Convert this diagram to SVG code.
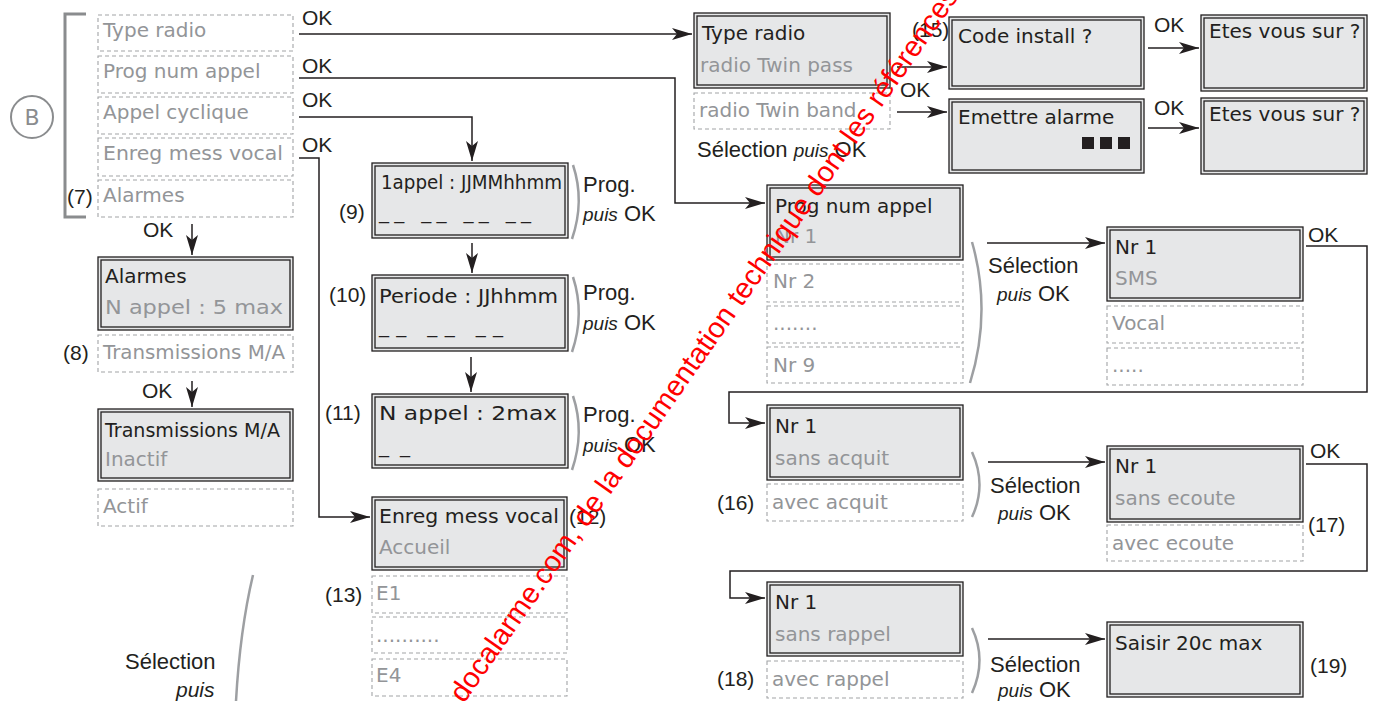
<svg xmlns="http://www.w3.org/2000/svg" width="1380" height="701" viewBox="0 0 1380 701">
<style>
.box{fill:#e6e7e8;stroke:#231f20;stroke-width:1.3}
.inner{fill:none;stroke:#231f20;stroke-width:1.3}
.dash{fill:none;stroke:#a2a4a6;stroke-width:1.1;stroke-dasharray:4 3}
.fg{font-family:"DejaVu Sans","Liberation Sans",sans-serif;font-size:20px;fill:#231f20}
.gr{font-family:"DejaVu Sans","Liberation Sans",sans-serif;font-size:20px;fill:#939598}
.lbl{font-family:"Liberation Sans",Arial,sans-serif;font-size:21px;fill:#231f20}
.big{font-family:"Liberation Sans",Arial,sans-serif;font-size:22px;fill:#231f20}
.it{font-style:italic;font-size:19px}
.arc{fill:none;stroke:#9d9fa2;stroke-width:2.5}
.conn{fill:none;stroke:#231f20;stroke-width:1.5}
.wm{font-family:"Liberation Sans",Arial,sans-serif;font-size:29px;fill:#ff0000}
</style>
<defs>
<marker id="ah" viewBox="0 0 20 12" refX="20" refY="6" markerWidth="20" markerHeight="12" markerUnits="userSpaceOnUse" orient="auto">
<path d="M0,0 L20,6 L0,12 L5,6 Z" fill="#231f20"/>
</marker>
</defs>
<rect width="1380" height="701" fill="#ffffff"/>

<!-- left menu -->
<g id="menu-b">
<path d="M86,14 H65 V217 H86" fill="none" stroke="#8a8c8e" stroke-width="3"/>
<circle cx="32" cy="117" r="21" fill="none" stroke="#8a8c8e" stroke-width="2"/>
<text x="32" y="125" text-anchor="middle" class="gr" style="font-size:22px;fill:#8a8c8e">B</text>
</g>
<g id="m-type-radio"><rect class="dash" x="98" y="15" width="195" height="36"/><text class="gr" x="103" y="37">Type radio</text></g>
<g id="m-prog-num"><rect class="dash" x="98" y="56" width="195" height="37"/><text class="gr" x="103" y="78">Prog num appel</text></g>
<g id="m-appel-cyc"><rect class="dash" x="98" y="97" width="195" height="37"/><text class="gr" x="103" y="119">Appel cyclique</text></g>
<g id="m-enreg"><rect class="dash" x="98" y="138" width="195" height="38"/><text class="gr" x="103" y="160" textLength="180" lengthAdjust="spacingAndGlyphs">Enreg mess vocal</text></g>
<g id="m-alarmes"><rect class="dash" x="98" y="180" width="195" height="37"/><text class="gr" x="103" y="202">Alarmes</text><text class="lbl" x="67" y="204">(7)</text></g>

<g id="n-alarmes"><rect class="box" x="98" y="257" width="195" height="73"/><rect class="inner" x="101" y="260" width="189" height="67"/><text class="fg" x="105" y="283">Alarmes</text><text class="gr" x="105" y="314" textLength="178" lengthAdjust="spacingAndGlyphs">N appel : 5 max</text></g>
<g id="m-trans"><rect class="dash" x="98" y="335" width="195" height="37"/><text class="gr" x="103" y="359" textLength="182" lengthAdjust="spacingAndGlyphs">Transmissions M/A</text><text class="lbl" x="63" y="360">(8)</text></g>
<g id="n-trans"><rect class="box" x="98" y="409" width="195" height="72"/><rect class="inner" x="101" y="412" width="189" height="66"/><text class="fg" x="105" y="437" textLength="175" lengthAdjust="spacingAndGlyphs">Transmissions M/A</text><text class="gr" x="105" y="466">Inactif</text></g>
<g id="m-actif"><rect class="dash" x="98" y="489" width="195" height="37"/><text class="gr" x="103" y="513">Actif</text></g>

<!-- appel cyclique -->
<g id="n-9"><rect class="box" x="372" y="163" width="196" height="75"/><rect class="inner" x="375" y="166" width="190" height="69"/><text class="fg" x="381" y="189" textLength="181" lengthAdjust="spacingAndGlyphs">1appel : JJMMhhmm</text><text class="fg" x="379" y="219" textLength="152" lengthAdjust="spacing">__ __ __ __</text><text class="lbl" x="339" y="219">(9)</text><path class="arc" d="M573,165 Q585,201 572,239"/><text class="big" x="583" y="192">Prog.</text><text class="big" x="583" y="221"><tspan class="it">puis</tspan> OK</text></g>
<g id="n-10"><rect class="box" x="372" y="275" width="196" height="76"/><rect class="inner" x="375" y="278" width="190" height="70"/><text class="fg" x="379" y="303" textLength="179" lengthAdjust="spacingAndGlyphs">Periode :  JJhhmm</text><text class="fg" x="379" y="333" textLength="124" lengthAdjust="spacing">__ __ __</text><text class="lbl" x="329" y="302">(10)</text><path class="arc" d="M573,277 Q585,314 572,352"/><text class="big" x="583" y="300">Prog.</text><text class="big" x="583" y="330"><tspan class="it">puis</tspan> OK</text></g>
<g id="n-11"><rect class="box" x="372" y="394" width="196" height="74"/><rect class="inner" x="375" y="397" width="190" height="68"/><text class="fg" x="379" y="420" textLength="178" lengthAdjust="spacingAndGlyphs">N  appel : 2max</text><text class="fg" x="379" y="453" textLength="31" lengthAdjust="spacing">__</text><text class="lbl" x="325" y="420">(11)</text><path class="arc" d="M573,396 Q585,432 572,470"/><text class="big" x="583" y="422">Prog.</text><text class="big" x="583" y="452"><tspan class="it">puis</tspan> OK</text></g>

<!-- enreg mess vocal -->
<g id="n-12"><rect class="box" x="372" y="497" width="195" height="73"/><rect class="inner" x="375" y="500" width="189" height="67"/><text class="fg" x="379" y="523" textLength="180" lengthAdjust="spacingAndGlyphs">Enreg mess vocal</text><text class="gr" x="379" y="554">Accueil</text><text class="lbl" x="569" y="524">(12)</text></g>
<g id="m-e1"><rect class="dash" x="372" y="576" width="195" height="37"/><text class="gr" x="376" y="600">E1</text><text class="lbl" x="325" y="602">(13)</text></g>
<g id="m-edots"><rect class="dash" x="372" y="617" width="195" height="36"/><text class="gr" x="376" y="642">..........</text></g>
<g id="m-e4"><rect class="dash" x="372" y="659" width="195" height="37"/><text class="gr" x="376" y="682">E4</text></g>
<g id="sel-left"><path class="arc" d="M253,575 Q240,630 236,701"/><text class="big" x="125" y="669">Sélection</text><text class="big it" x="176" y="697" style="font-size:21px">puis</text></g>

<!-- type radio -->
<g id="n-type-radio"><rect class="box" x="694" y="13" width="196" height="75"/><rect class="inner" x="697" y="16" width="190" height="69"/><text class="fg" x="702" y="40">Type radio</text><text class="gr" x="700" y="72">radio Twin pass</text></g>
<g id="m-twin-band"><rect class="dash" x="694" y="93" width="196" height="36"/><text class="gr" x="699" y="117">radio Twin band</text><text class="big" x="697" y="157">Sélection <tspan class="it">puis</tspan> OK</text></g>
<g id="n-code"><rect class="box" x="949" y="17" width="195" height="72"/><rect class="inner" x="952" y="20" width="189" height="66"/><text class="fg" x="958" y="43">Code install ?</text><text class="lbl" x="912" y="37">(15)</text></g>
<g id="n-emettre"><rect class="box" x="949" y="99" width="195" height="74"/><rect class="inner" x="952" y="102" width="189" height="68"/><text class="fg" x="958" y="124">Emettre alarme</text><rect x="1082" y="137" width="12" height="12" fill="#231f20"/><rect x="1100" y="137" width="12" height="12" fill="#231f20"/><rect x="1118" y="137" width="12" height="12" fill="#231f20"/></g>
<g id="n-etes1"><rect class="box" x="1201" y="15" width="166" height="76"/><rect class="inner" x="1204" y="18" width="160" height="70"/><text class="fg" x="1209" y="38">Etes vous sur ?</text></g>
<g id="n-etes2"><rect class="box" x="1201" y="98" width="166" height="76"/><rect class="inner" x="1204" y="101" width="160" height="70"/><text class="fg" x="1209" y="121">Etes vous sur ?</text></g>

<!-- prog num appel -->
<g id="n-prog"><rect class="box" x="767" y="185" width="196" height="75"/><rect class="inner" x="770" y="188" width="190" height="69"/><text class="fg" x="775" y="213">Prog num appel</text><text class="gr" x="775" y="243">Nr 1</text></g>
<g id="m-nr2"><rect class="dash" x="767" y="264" width="196" height="38"/><text class="gr" x="773" y="288">Nr 2</text></g>
<g id="m-nrdots"><rect class="dash" x="767" y="306" width="196" height="37"/><text class="gr" x="773" y="330">.......</text></g>
<g id="m-nr9"><rect class="dash" x="767" y="347" width="196" height="36"/><text class="gr" x="773" y="372">Nr 9</text></g>
<g id="sel-prog"><path class="arc" d="M972,242 Q992,312 970,383"/><text class="big" x="988" y="273">Sélection</text><text class="big" x="997" y="301"><tspan class="it">puis</tspan> OK</text></g>

<g id="n-sms"><rect class="box" x="1107" y="227" width="196" height="74"/><rect class="inner" x="1110" y="230" width="190" height="68"/><text class="fg" x="1115" y="254">Nr 1</text><text class="gr" x="1115" y="285">SMS</text></g>
<g id="m-vocal"><rect class="dash" x="1107" y="306" width="196" height="37"/><text class="gr" x="1112" y="330">Vocal</text></g>
<g id="m-smsdots"><rect class="dash" x="1107" y="348" width="196" height="37"/><text class="gr" x="1112" y="372">.....</text></g>

<g id="n-acquit"><rect class="box" x="767" y="405" width="196" height="75"/><rect class="inner" x="770" y="408" width="190" height="69"/><text class="fg" x="775" y="433">Nr 1</text><text class="gr" x="775" y="465">sans acquit</text></g>
<g id="m-avec-acquit"><rect class="dash" x="767" y="484" width="196" height="37"/><text class="gr" x="772" y="509">avec acquit</text><text class="lbl" x="717" y="510">(16)</text></g>
<g id="sel-acquit"><path class="arc" d="M972,452 Q987,485 972,517"/><text class="big" x="990" y="493">Sélection</text><text class="big" x="998" y="520"><tspan class="it">puis</tspan> OK</text></g>

<g id="n-ecoute"><rect class="box" x="1107" y="446" width="196" height="76"/><rect class="inner" x="1110" y="449" width="190" height="70"/><text class="fg" x="1115" y="473">Nr 1</text><text class="gr" x="1115" y="505">sans ecoute</text></g>
<g id="m-avec-ecoute"><rect class="dash" x="1107" y="525" width="196" height="36"/><text class="gr" x="1112" y="550">avec ecoute</text><text class="lbl" x="1308" y="532">(17)</text></g>

<g id="n-rappel"><rect class="box" x="767" y="582" width="196" height="74"/><rect class="inner" x="770" y="585" width="190" height="68"/><text class="fg" x="775" y="609">Nr 1</text><text class="gr" x="775" y="641">sans rappel</text></g>
<g id="m-avec-rappel"><rect class="dash" x="767" y="661" width="196" height="37"/><text class="gr" x="772" y="686">avec rappel</text><text class="lbl" x="717" y="686">(18)</text></g>
<g id="sel-rappel"><path class="arc" d="M972,628 Q987,660 972,693"/><text class="big" x="990" y="672">Sélection</text><text class="big" x="998" y="697"><tspan class="it">puis</tspan> OK</text></g>

<g id="n-saisir"><rect class="box" x="1107" y="622" width="196" height="75"/><rect class="inner" x="1110" y="625" width="190" height="69"/><text class="fg" x="1115" y="650">Saisir 20c max</text><text class="lbl" x="1310" y="673">(19)</text></g>

<!-- connectors -->
<g id="connectors">
<path class="conn" d="M299,34 H692" marker-end="url(#ah)"/>
<path class="conn" d="M299,78 H675 V203 H765" marker-end="url(#ah)"/>
<path class="conn" d="M299,117 H472 V161" marker-end="url(#ah)"/>
<path class="conn" d="M299,158 H319 V517 H370" marker-end="url(#ah)"/>
<path class="conn" d="M192,224 V255" marker-end="url(#ah)"/>
<path class="conn" d="M192,381 V407" marker-end="url(#ah)"/>
<path class="conn" d="M472,243 V273" marker-end="url(#ah)"/>
<path class="conn" d="M471,357 V392" marker-end="url(#ah)"/>
<path class="conn" d="M897,67 H947" marker-end="url(#ah)"/>
<path class="conn" d="M897,112 H947" marker-end="url(#ah)"/>
<path class="conn" d="M1148,48 H1199" marker-end="url(#ah)"/>
<path class="conn" d="M1148,128 H1199" marker-end="url(#ah)"/>
<path class="conn" d="M987,243 H1105" marker-end="url(#ah)"/>
<path class="conn" d="M1306,246 H1367 V392 H729 V423 H765" marker-end="url(#ah)"/>
<path class="conn" d="M988,462 H1105" marker-end="url(#ah)"/>
<path class="conn" d="M1306,464 H1367 V571 H730 V598 H765" marker-end="url(#ah)"/>
<path class="conn" d="M988,639 H1105" marker-end="url(#ah)"/>
<text class="lbl" x="302" y="25">OK</text>
<text class="lbl" x="302" y="73">OK</text>
<text class="lbl" x="302" y="107">OK</text>
<text class="lbl" x="302" y="152">OK</text>
<text class="lbl" x="143" y="237">OK</text>
<text class="lbl" x="142" y="398">OK</text>
<text class="lbl" x="900" y="97">OK</text>
<text class="lbl" x="1154" y="32">OK</text>
<text class="lbl" x="1154" y="115">OK</text>
<text class="lbl" x="1308" y="242">OK</text>
<text class="lbl" x="1310" y="458">OK</text>
</g>

<g id="watermark">
<text class="wm" transform="translate(464,704) rotate(-55)">docalarme.com, de la documentation technique dont les références</text>
</g>
</svg>
